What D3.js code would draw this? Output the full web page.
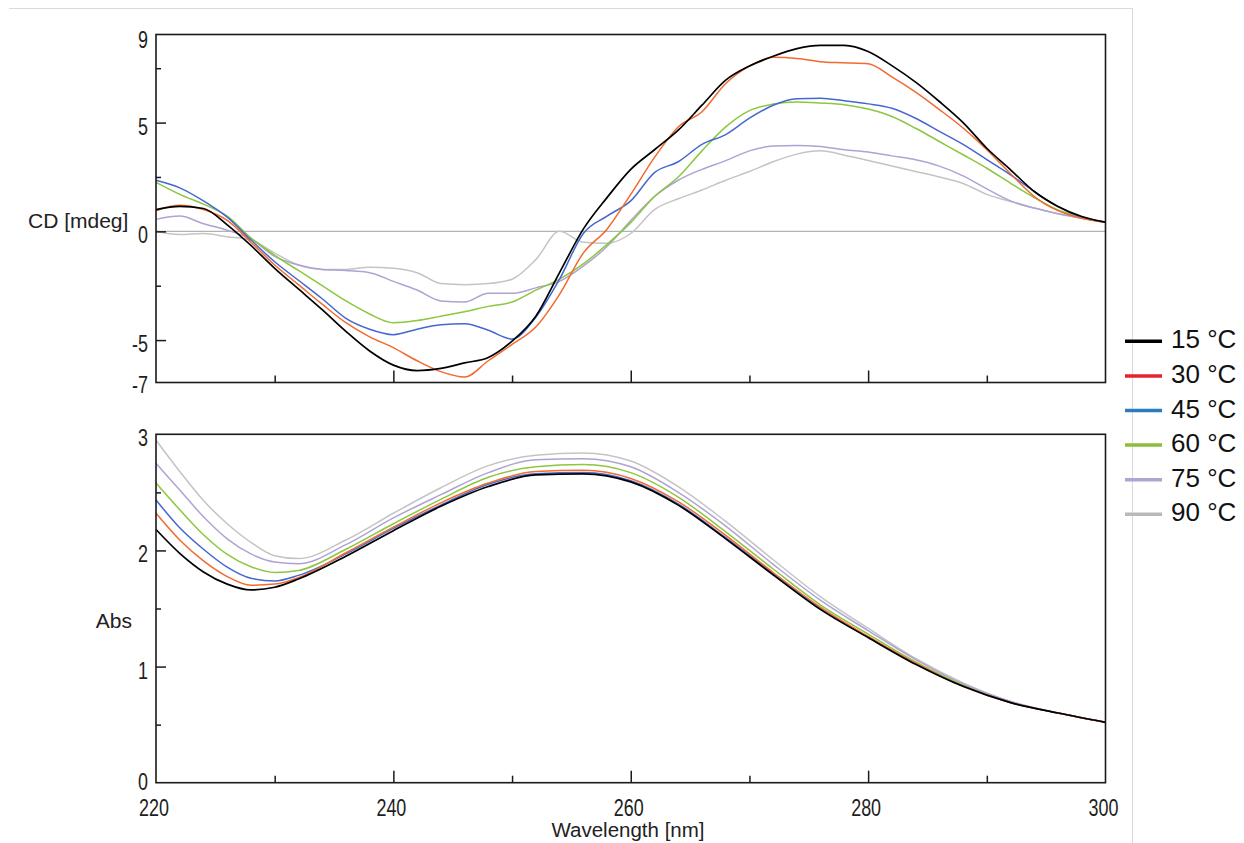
<!DOCTYPE html>
<html>
<head>
<meta charset="utf-8">
<script src="https://cdn.jsdelivr.net/npm/d3@7"></script>
<style>
  html, body { margin: 0; padding: 0; background: #ffffff; }
  svg { display: block; }
</style>
</head>
<body>
<svg id="chart" width="1244" height="843"></svg>
<script>
// ---------------- DATA ----------------
const temperatures = ["15 °C", "30 °C", "45 °C", "60 °C", "75 °C", "90 °C"];

// CD spectra, wavelength grid (nm)
const cdWavelengths = [220,222,224,226,228,230,232,234,236,238,240,242,244,246,248,250,252,254,256,258,260,
                       262,264,266,268,270,272,274,276,278,280,282,284,286,288,290,292,294,296,298,300];

const cd15 = [1.0, 1.15, 1.05, 0.3, -0.65, -1.7, -2.65, -3.6, -4.6, -5.5, -6.15,
              -6.4, -6.3, -6.05, -5.8, -5.05, -3.9, -1.9, 0.1, 1.55, 2.85,
              3.75, 4.65, 5.8, 6.95, 7.6, 8.05, 8.4, 8.55, 8.55, 8.27,
              7.62, 6.86, 5.97, 5.0, 3.82, 2.83, 1.83, 1.14, 0.68, 0.42];
const cd30 = [0.95, 1.2, 1.0, 0.5, -0.5, -1.55, -2.45, -3.35, -4.2, -4.85, -5.35,
              -5.95, -6.45, -6.7, -5.95, -5.2, -4.4, -2.9, -1.0, 0.1, 1.7,
              3.4, 4.8, 5.5, 6.8, 7.6, 8.0, 7.95, 7.8, 7.75, 7.7,
              7.1, 6.4, 5.6, 4.75, 3.75, 2.65, 1.6, 0.95, 0.6, 0.42];
const cd45 = [2.35, 2.0, 1.4, 0.65, -0.4, -1.4, -2.25, -3.1, -4.0, -4.5, -4.75,
              -4.5, -4.3, -4.25, -4.55, -4.95, -3.95, -2.2, -0.1, 0.7, 1.4,
              2.7, 3.2, 4.0, 4.45, 5.2, 5.8, 6.1, 6.12, 6.0, 5.86,
              5.66, 5.2, 4.6, 4.0, 3.3, 2.6, 1.83, 1.14, 0.65, 0.42];
const cd60 = [2.25, 1.7, 1.25, 0.7, -0.3, -1.1, -1.8, -2.5, -3.2, -3.8, -4.2,
              -4.1, -3.9, -3.7, -3.45, -3.25, -2.7, -2.2, -1.5, -0.6, 0.4,
              1.6, 2.5, 3.7, 4.8, 5.55, 5.85, 5.95, 5.9, 5.82, 5.62,
              5.28, 4.74, 4.13, 3.52, 2.9, 2.21, 1.55, 0.98, 0.65, 0.42];
const cd75 = [0.55, 0.7, 0.35, 0.05, -0.35, -1.15, -1.55, -1.75, -1.8, -1.9, -2.3,
              -2.7, -3.2, -3.25, -2.85, -2.85, -2.6, -2.3, -1.6, -0.7, 0.5,
              1.6, 2.35, 2.85, 3.25, 3.7, 3.92, 3.95, 3.9, 3.75, 3.65,
              3.47, 3.29, 3.0, 2.55, 1.95, 1.4, 1.07, 0.81, 0.6, 0.42];
const cd90 = [0.0, -0.15, -0.1, -0.25, -0.4, -1.0, -1.55, -1.75, -1.75, -1.65, -1.7,
              -1.9, -2.4, -2.45, -2.4, -2.2, -1.3, 0.0, -0.5, -0.55, -0.1,
              1.0, 1.5, 1.9, 2.35, 2.75, 3.2, 3.55, 3.7, 3.5, 3.26,
              3.0, 2.75, 2.5, 2.2, 1.7, 1.37, 1.07, 0.81, 0.6, 0.42];

// Absorbance spectra, wavelength grid (nm)
const absWavelengths = [220,222,224,226,228,230,232,236,240,244,248,252,256,260,264,268,272,276,280,284,288,292,296,300];

const abs15 = [2.18, 1.975, 1.815, 1.71, 1.66, 1.683, 1.754, 1.95, 2.17, 2.38, 2.55, 2.65, 2.66, 2.59, 2.39, 2.10, 1.79, 1.49, 1.25, 1.02, 0.83, 0.69, 0.60, 0.52];
const abs30 = [2.32, 2.09, 1.91, 1.775, 1.70, 1.71, 1.765, 1.98, 2.20, 2.41, 2.58, 2.68, 2.69, 2.62, 2.42, 2.13, 1.81, 1.51, 1.26, 1.03, 0.83, 0.69, 0.60, 0.52];
const abs45 = [2.435, 2.195, 2.01, 1.856, 1.76, 1.737, 1.785, 1.97, 2.19, 2.39, 2.57, 2.66, 2.67, 2.60, 2.40, 2.11, 1.80, 1.50, 1.255, 1.025, 0.83, 0.69, 0.60, 0.52];
const abs60 = [2.58, 2.35, 2.135, 1.966, 1.86, 1.81, 1.827, 2.01, 2.23, 2.44, 2.63, 2.72, 2.74, 2.67, 2.46, 2.16, 1.84, 1.53, 1.28, 1.04, 0.84, 0.69, 0.60, 0.52];
const abs75 = [2.75, 2.52, 2.29, 2.10, 1.97, 1.90, 1.885, 2.05, 2.28, 2.48, 2.67, 2.78, 2.79, 2.72, 2.50, 2.21, 1.88, 1.57, 1.31, 1.06, 0.85, 0.70, 0.60, 0.52];
const abs90 = [2.95, 2.68, 2.43, 2.23, 2.07, 1.955, 1.93, 2.09, 2.32, 2.54, 2.73, 2.82, 2.84, 2.77, 2.55, 2.25, 1.92, 1.60, 1.33, 1.07, 0.86, 0.70, 0.60, 0.52];

// Axis ticks / labels
const xLabelValues = [220, 240, 260, 280, 300];
const xMajorTicks = [240, 260, 280];
const xMinorTicks = [230, 250, 270, 290];
const cdLabelValues = [9, 5, 0, -5, -7];
const cdMajorTicks = [5, 0, -5];
const cdMinorTicks = [7.5, 2.5, -2.5];
const absLabelValues = [3, 2, 1, 0];
const absMajorTicks = [1, 2];
const absMinorTicks = [0.5, 1.5, 2.5];

// ---------------- STYLE ----------------
const lineColors   = ["#000000", "#f26a2e", "#4467d0", "#8dc63f", "#b0a2d4", "#c4c4c4"];
const legendColors = ["#000000", "#e5232b", "#2b7bbd", "#8cbd3c", "#a8a8d2", "#b9b9b9"];
const textFont = "'Liberation Sans', Arial, sans-serif";
const narrow = 0.78;   // horizontal squeeze for the narrow tick-label font

const svg = d3.select("#chart");

// faint outer window border
svg.append("line").attr("x1", 9).attr("x2", 1132).attr("y1", 8.5).attr("y2", 8.5)
   .attr("stroke", "#dadada").attr("stroke-width", 1);
svg.append("line").attr("x1", 1132.5).attr("x2", 1132.5).attr("y1", 8).attr("y2", 843)
   .attr("stroke", "#dadada").attr("stroke-width", 1);

// scales
const x = d3.scaleLinear().domain([220, 300]).range([156, 1105.5]);
const yCD = d3.scaleLinear().domain([-6.95, 9.05]).range([382.5, 34.5]);
const yAbs = d3.scaleLinear().domain([0, 3]).range([782.7, 434.3]);

function tickText(sel, px, py, anchor) {
  sel.attr("transform", d => `translate(${px(d)},${py(d)}) scale(${narrow},1)`)
    .attr("text-anchor", anchor)
    .attr("font-family", textFont)
    .attr("font-size", 23)
    .attr("fill", "#1e1e1e")
    .text(d => d);
}

function drawPanel(yScale, yMajor, yMinor, series, wl, labelValues, zeroLine, lowLabelMax) {
  const [y0, y1] = yScale.domain();
  const top = yScale(y1), bottom = yScale(y0);
  const g = svg.append("g");

  if (zeroLine) {
    g.append("line").attr("x1", x(220)).attr("x2", x(300))
      .attr("y1", yScale(0)).attr("y2", yScale(0))
      .attr("stroke", "#b3b3b3").attr("stroke-width", 1.2);
  }
  const line = d3.line()
    .x((d, i) => x(wl[i]))
    .y(d => yScale(d))
    .curve(d3.curveMonotoneX);
  // draw 90 °C first so 15 °C is on top
  for (let k = series.length - 1; k >= 0; k--) {
    g.append("path").datum(series[k])
      .attr("fill", "none")
      .attr("stroke", lineColors[k])
      .attr("stroke-width", k === 0 ? 1.7 : 1.5)
      .attr("stroke-linejoin", "round")
      .attr("d", line);
  }
  // frame
  g.append("rect").attr("x", x(220)).attr("y", top)
    .attr("width", x(300) - x(220)).attr("height", bottom - top)
    .attr("fill", "none").attr("stroke", "#1a1a1a").attr("stroke-width", 1.6);

  // y ticks (inside)
  const yAxMaj = g.append("g").attr("transform", `translate(${x(220)},0)`)
    .call(d3.axisLeft(yScale).tickValues(yMajor).tickSize(-10).tickFormat(""));
  const yAxMin = g.append("g").attr("transform", `translate(${x(220)},0)`)
    .call(d3.axisLeft(yScale).tickValues(yMinor).tickSize(-5).tickFormat(""));
  // x ticks (inside, upward from bottom)
  const xAxMaj = g.append("g").attr("transform", `translate(0,${bottom})`)
    .call(d3.axisBottom(x).tickValues(xMajorTicks).tickSize(-12).tickFormat(""));
  const xAxMin = g.append("g").attr("transform", `translate(0,${bottom})`)
    .call(d3.axisBottom(x).tickValues(xMinorTicks).tickSize(-7).tickFormat(""));
  [yAxMaj, yAxMin, xAxMaj, xAxMin].forEach(a => {
    a.select(".domain").remove();
    a.selectAll("line").attr("stroke", "#1a1a1a").attr("stroke-width", 1.5);
  });

  // y labels
  g.selectAll("text.ylab").data(labelValues).enter().append("text")
    .attr("class", "ylab")
    .call(tickText, () => 148, d => Math.min(yScale(d) + 12, bottom + lowLabelMax), "end");
}

drawPanel(yCD, cdMajorTicks, cdMinorTicks,
  [cd15, cd30, cd45, cd60, cd75, cd90], cdWavelengths, cdLabelValues, true, 10.5);
drawPanel(yAbs, absMajorTicks, absMinorTicks,
  [abs15, abs30, abs45, abs60, abs75, abs90], absWavelengths, absLabelValues, false, 6.8);

// x labels (bottom panel only)
svg.selectAll("text.xlab").data(xLabelValues).enter().append("text")
  .attr("class", "xlab")
  .call(tickText, d => x(d) - 2, () => 816, "middle");

// axis titles
svg.append("text").attr("x", 28).attr("y", 228)
  .attr("font-family", textFont).attr("font-size", 21).attr("fill", "#222")
  .text("CD [mdeg]");
svg.append("text").attr("x", 132).attr("y", 627.5).attr("text-anchor", "end")
  .attr("font-family", textFont).attr("font-size", 21).attr("fill", "#222")
  .text("Abs");
svg.append("text").attr("x", 628).attr("y", 837).attr("text-anchor", "middle")
  .attr("font-family", textFont).attr("font-size", 20.5).attr("fill", "#222")
  .text("Wavelength [nm]");

// legend
const legend = svg.append("g");
temperatures.forEach((t, i) => {
  const base = 348.3 + i * 34.6;
  legend.append("line")
    .attr("x1", 1125).attr("x2", 1162)
    .attr("y1", base - 7).attr("y2", base - 7)
    .attr("stroke", legendColors[i]).attr("stroke-width", 3.5);
  legend.append("text")
    .attr("x", 1171).attr("y", base)
    .attr("font-family", textFont).attr("font-size", 26).attr("fill", "#111")
    .text(t);
});
</script>
</body>
</html>
